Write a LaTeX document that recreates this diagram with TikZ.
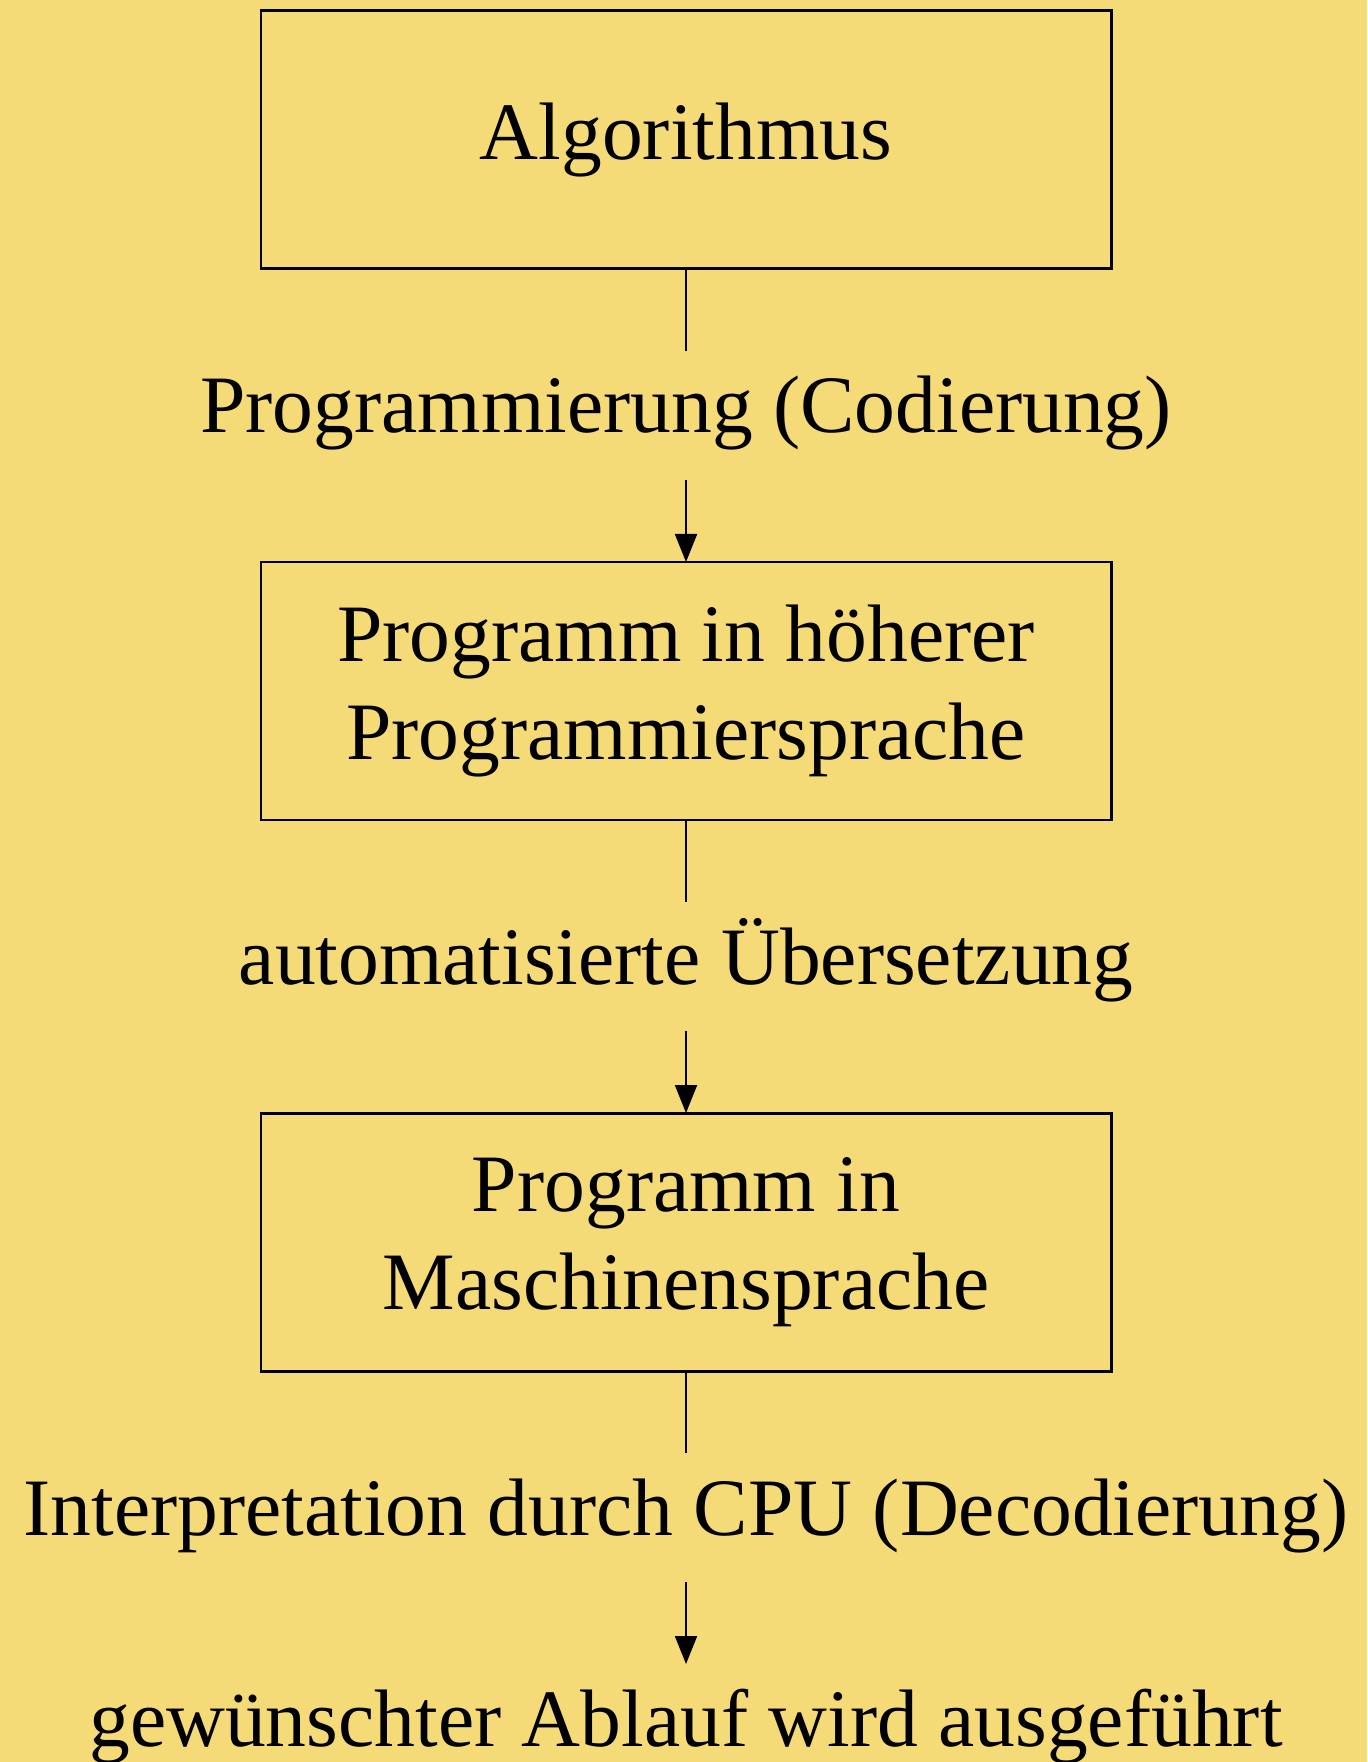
\documentclass[tikz,border=0pt]{standalone}
\usepackage{fontspec}
\setmainfont{Liberation Serif}
\usetikzlibrary{arrows.meta,positioning}
\definecolor{parchment}{HTML}{F5DA78}

\begin{document}
\begin{tikzpicture}[
	box/.style={draw, line width=0.85pt, minimum width=8.5cm, minimum height=2.58cm, inner sep=0pt, outer sep=0pt, align=center, font=\fontsize{23.2}{27.8}\selectfont},
	stage/.style={minimum height=1.29cm, inner sep=0pt, outer sep=0pt, text height=0.55cm, text depth=0.2cm, font=\fontsize{23.2}{27.8}\selectfont},
	link/.style={line width=0.55pt},
	flow/.style={link, -{Triangle[length=2.8mm,width=2.2mm]}}
	]
	\pgfmathsetmacro{\PageW}{13.67}
	\pgfmathsetmacro{\PageH}{17.62}
	\pgfmathsetmacro{\Gap}{0.82}
	% BACKGROUND
	\fill[parchment] (0,0) rectangle (\PageW,-\PageH);
	\useasboundingbox (0,0) rectangle (\PageW,-\PageH);
	% BOXES AND STAGES
	\node[box] (algo) at (6.86,-1.40) {Algorithmus};
	\node[stage, below=\Gap cm of algo] (codierung) {Programmierung (Codierung)};
	\node[box, below=\Gap cm of codierung] (hochsprache) {Programm in höherer\\Programmiersprache};
	\node[stage, below=\Gap cm of hochsprache] (uebersetzung) {automatisierte Übersetzung};
	\node[box, below=\Gap cm of uebersetzung] (maschine) {Programm in\\Maschinensprache};
	\node[stage, below=\Gap cm of maschine] (decodierung) {Interpretation durch CPU (Decodierung)};
	\node[stage, below=\Gap cm of decodierung] (ablauf) {gewünschter Ablauf wird ausgeführt};
	% CONNECTORS
	\draw[link] (algo.south) -- (codierung.north);
	\draw[flow] (codierung.south) -- (hochsprache.north);
	\draw[link] (hochsprache.south) -- (uebersetzung.north);
	\draw[flow] (uebersetzung.south) -- (maschine.north);
	\draw[link] (maschine.south) -- (decodierung.north);
	\draw[flow] (decodierung.south) -- (ablauf.north);
\end{tikzpicture}
\end{document}
